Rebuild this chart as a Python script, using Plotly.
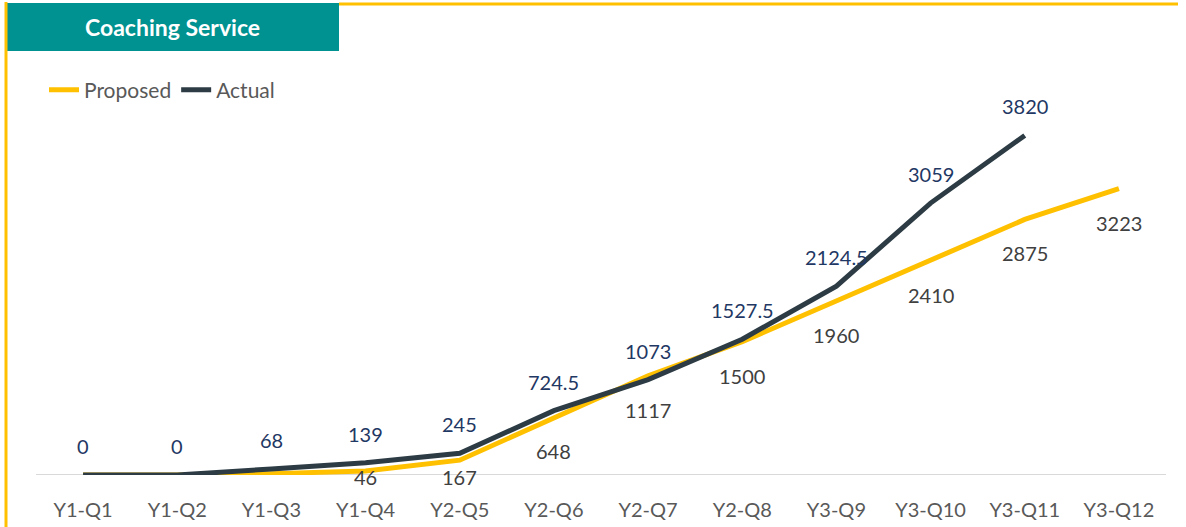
import plotly.graph_objects as go

quarters = ["Y1-Q1", "Y1-Q2", "Y1-Q3", "Y1-Q4", "Y2-Q5", "Y2-Q6", "Y2-Q7",
            "Y2-Q8", "Y3-Q9", "Y3-Q10", "Y3-Q11", "Y3-Q12"]
proposed = [0, 0, 15, 46, 167, 648, 1117, 1500, 1960, 2410, 2875, 3223]
proposed_labels = ["", "", "", "46", "167", "648", "1117", "1500", "1960", "2410", "2875", "3223"]
actual = [0, 0, 68, 139, 245, 724.5, 1073, 1527.5, 2124.5, 3059, 3820]
actual_labels = ["0", "0", "68", "139", "245", "724.5", "1073", "1527.5", "2124.5", "3059", "3820"]

W, H = 1186, 527
ML, MR, MT, MB = 36, 20, 75, 52
PW, PH = W - ML - MR, H - MT - MB
YMAX = 4500

def px_x(p):
    return (p - ML) / PW

def px_y(p):
    return (H - MB - p) / PH

FONT = "Lato"
YELLOW = "#FFC000"
DARK = "#2C3B44"

fig = go.Figure()
fig.add_trace(go.Scatter(x=quarters, y=proposed, mode="lines", name="Proposed",
                         line=dict(color=YELLOW, width=5)))
fig.add_trace(go.Scatter(x=quarters[:len(actual)], y=actual, mode="lines", name="Actual",
                         line=dict(color=DARK, width=5)))

ann = []
scale = PH / YMAX
bottom_px = H - MB
for q, v, t in zip(quarters, proposed, proposed_labels):
    if not t:
        continue
    ppx = bottom_px - v * scale
    shift = min(34, 477 - ppx)
    ann.append(dict(x=q, y=v, text=t, showarrow=False, yshift=-shift,
                    font=dict(family=FONT, size=20, color="#404040")))
for q, v, t in zip(quarters, actual, actual_labels):
    ann.append(dict(x=q, y=v, text=t, showarrow=False, yshift=29,
                    font=dict(family=FONT, size=20, color="#1F3864")))

ann.append(dict(xref="paper", yref="paper", x=px_x(172), y=px_y(27), text="<b>Coaching Service</b>",
                showarrow=False, xanchor="center", yanchor="middle",
                font=dict(family=FONT, size=23, color="white")))

shapes = [
    dict(type="rect", xref="paper", yref="paper", x0=px_x(7), x1=px_x(339), y0=px_y(3), y1=px_y(51),
         fillcolor="#009290", line=dict(width=0), layer="above"),
    dict(type="line", xref="paper", yref="paper", x0=px_x(339), x1=px_x(1178), y0=px_y(4), y1=px_y(4),
         line=dict(color=YELLOW, width=3)),
    dict(type="line", xref="paper", yref="paper", x0=px_x(6), x1=px_x(6), y0=px_y(2), y1=px_y(527),
         line=dict(color=YELLOW, width=3)),
    dict(type="line", xref="paper", yref="y", x0=0, x1=1, y0=0, y1=0,
         line=dict(color="#D9D9D9", width=2), layer="below"),
]

fig.update_layout(
    width=W, height=H,
    margin=dict(l=ML, r=MR, t=MT, b=MB),
    paper_bgcolor="white", plot_bgcolor="white",
    showlegend=True,
    legend=dict(orientation="h", x=px_x(44), y=px_y(90), xanchor="left", yanchor="middle",
                font=dict(family=FONT, size=21, color="#595959"), bgcolor="rgba(0,0,0,0)",
                itemwidth=30, tracegroupgap=0),
    xaxis=dict(type="category", range=[-0.5, 11.5], showgrid=False, showline=False, zeroline=False,
               ticks="", tickfont=dict(family=FONT, size=20, color="#595959"), ticklabelstandoff=21,
               automargin=False),
    yaxis=dict(range=[0, YMAX], showgrid=False, showticklabels=False, zeroline=False, showline=False,
               automargin=False),
    annotations=ann,
    shapes=shapes,
    hovermode=False,
)

fig.write_html("out.html", config={"displayModeBar": False},
               post_script="document.body.style.margin='0';")
